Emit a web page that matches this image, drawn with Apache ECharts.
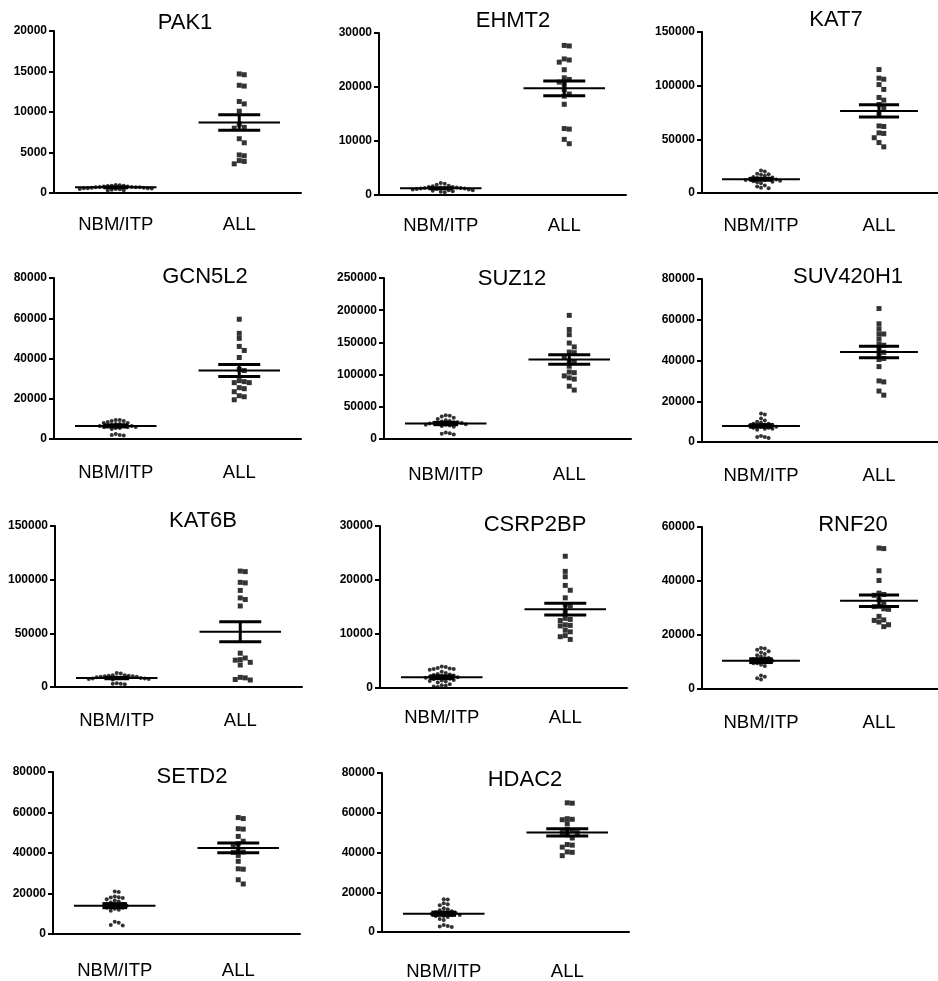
<!DOCTYPE html>
<html>
<head>
<meta charset="utf-8">
<script src="https://cdn.jsdelivr.net/npm/echarts@6/dist/echarts.min.js"></script>
<style>
html, body { margin: 0; padding: 0; background: #fff; }
#chart { width: 938px; height: 981px; }
</style>
</head>
<body>
<div id="chart"></div>
<script>
var genes = ['PAK1', 'EHMT2', 'KAT7', 'GCN5L2', 'SUZ12', 'SUV420H1', 'KAT6B', 'CSRP2BP', 'RNF20', 'SETD2', 'HDAC2'];
var groups = ['NBM/ITP', 'ALL'];
var yMax = [20000, 30000, 150000, 80000, 250000, 80000, 150000, 30000, 60000, 80000, 80000];
var yStep = [5000, 10000, 50000, 20000, 50000, 20000, 50000, 10000, 20000, 20000, 20000];

// values
var nbmPAK1 = [1000, 950, 900, 900, 850, 800, 800, 750, 750, 700, 700, 700, 650, 650, 600, 600, 600, 550, 500, 500, 450, 400, 350, 300];
var allPAK1 = [14700, 14600, 13300, 13200, 11300, 11000, 10100, 8500, 8100, 8000, 6700, 6200, 4700, 4600, 4000, 3900, 3600];
var nbmEHMT2 = [2200, 2100, 1900, 1700, 1600, 1500, 1500, 1400, 1400, 1300, 1300, 1300, 1200, 1200, 1100, 1100, 1000, 1000, 900, 900, 800, 700, 600, 500];
var allEHMT2 = [27700, 27600, 25200, 25000, 24600, 23200, 21700, 21400, 20900, 20500, 19500, 18700, 18300, 16800, 12300, 12200, 10300, 9500];
var nbmKAT7 = [21000, 20000, 18000, 17500, 17000, 16000, 15000, 14500, 14000, 13500, 13000, 13000, 12500, 12000, 12000, 11500, 11000, 10500, 10000, 9000, 7000, 6000, 5000, 4500];
var allKAT7 = [115000, 107000, 106000, 101000, 96500, 89000, 86500, 82500, 79000, 74000, 62500, 62000, 56000, 55500, 51500, 47000, 43000];
var nbmGCN5L2 = [9500, 9500, 9000, 9000, 8500, 8000, 8000, 7500, 7500, 7000, 7000, 6500, 6500, 6500, 6000, 6000, 6000, 5500, 5500, 5000, 2500, 2000, 2000, 1800];
var allGCN5L2 = [59500, 52500, 50000, 46000, 44000, 40500, 34500, 34000, 29000, 28500, 28000, 28000, 25500, 25000, 23500, 21500, 21000, 19500];
var nbmSUZ12 = [37000, 36000, 35000, 33000, 31000, 29000, 28000, 27000, 26000, 26000, 25000, 25000, 24000, 24000, 23000, 22000, 22000, 21000, 20000, 19000, 10000, 9000, 8000, 7000];
var allSUZ12 = [192000, 170000, 162000, 149000, 143000, 135000, 134000, 128000, 121000, 120000, 113000, 104000, 103000, 98000, 95000, 93000, 82000, 76000];
var nbmSUV420H1 = [14000, 13500, 11500, 10500, 10000, 9500, 9000, 9000, 8500, 8500, 8000, 8000, 7500, 7500, 7000, 7000, 6500, 6500, 6000, 3000, 2500, 2500, 2000];
var allSUV420H1 = [65500, 58000, 55500, 53000, 53000, 50500, 48000, 47500, 45500, 44000, 43000, 41000, 40500, 37000, 30000, 29500, 25000, 23000];
var nbmKAT6B = [13000, 12500, 11000, 11000, 10500, 10500, 10000, 10000, 9500, 9500, 9000, 9000, 8500, 8500, 8000, 8000, 7500, 7500, 7000, 3500, 3000, 3000, 2500];
var allKAT6B = [108000, 107500, 97500, 97000, 90000, 83000, 81500, 75500, 31500, 27000, 25500, 25000, 23000, 20500, 9000, 8500, 7000, 6500];
var nbmCSRP2BP = [4000, 3900, 3700, 3600, 3500, 3500, 3400, 3000, 2800, 2600, 2500, 2400, 2300, 2200, 2100, 2000, 2000, 1900, 1800, 1700, 1600, 1500, 1400, 1300, 1200, 1000, 700, 500, 400, 300, 200];
var allCSRP2BP = [24400, 21600, 20600, 19000, 18100, 16700, 15400, 15200, 14100, 12900, 12700, 12500, 11700, 11600, 11500, 10700, 10400, 9700, 9500, 9000];
var nbmRNF20 = [15200, 15000, 14500, 14000, 13500, 13000, 12500, 12000, 11500, 11500, 11000, 11000, 10500, 10500, 10000, 10000, 9500, 9500, 9000, 8500, 5000, 4500, 4000, 3500];
var allRNF20 = [52200, 52000, 43800, 40200, 35500, 35000, 34700, 33000, 31600, 30600, 30500, 29700, 29500, 26900, 25600, 25400, 24800, 23800, 23100];
var nbmSETD2 = [21000, 20800, 18500, 18200, 18000, 17800, 17200, 16500, 16000, 15500, 15000, 15000, 14500, 14000, 14000, 13500, 13000, 13000, 12500, 12000, 11500, 6000, 5500, 4500, 4200];
var allSETD2 = [57500, 57000, 52000, 51800, 48200, 45800, 44600, 44000, 41600, 40500, 40300, 38800, 35900, 32200, 32000, 26800, 24700];
var nbmHDAC2 = [16500, 16300, 14500, 14000, 13500, 12000, 11500, 11000, 10500, 10000, 10000, 9500, 9500, 9000, 9000, 8500, 8500, 8000, 8000, 7500, 6500, 6000, 3500, 3000, 2800, 2500];
var allHDAC2 = [65000, 64800, 57000, 56700, 56500, 54500, 51700, 50900, 50000, 50000, 48900, 47300, 44000, 43700, 42700, 40300, 40100, 38400];

var nbmValues = [nbmPAK1, nbmEHMT2, nbmKAT7, nbmGCN5L2, nbmSUZ12, nbmSUV420H1, nbmKAT6B, nbmCSRP2BP, nbmRNF20, nbmSETD2, nbmHDAC2];
var allValues = [allPAK1, allEHMT2, allKAT7, allGCN5L2, allSUZ12, allSUV420H1, allKAT6B, allCSRP2BP, allRNF20, allSETD2, allHDAC2];

// mean +/- SEM bars as drawn
var meanNBM = [700, 1250, 12800, 6500, 24000, 7900, 8300, 2000, 10500, 14000, 9200];
var semNBM = [50, 90, 900, 500, 1800, 600, 600, 250, 700, 1000, 800];
var meanALL = [8700, 19750, 76500, 34000, 123500, 44200, 51500, 14600, 32700, 42500, 50100];
var semALL = [950, 1350, 5800, 3000, 7500, 2800, 9300, 1100, 2100, 2400, 1800];

// plot area of each panel: left, top (max tick), bottom (zero)
var panelBox = [
    [54, 31, 193], [379, 33, 195], [702, 32, 193],
    [54, 278, 439], [384, 278, 439], [702, 279, 442],
    [55, 526, 687], [380, 526, 688], [702, 527, 689],
    [53, 772, 934], [382, 773, 935]
];
// gap between x axis and group labels
var labelGap = [22, 21, 23, 24, 26, 24, 24, 20, 24, 27, 30];
// title centre x, y
var titlePos = [
    [185, 24], [513, 22], [836, 21],
    [205, 278], [512, 280], [848, 278],
    [203, 522], [535, 526], [853, 526],
    [192, 778], [525, 781]
];
var PLOT_W = 247;
var FONT = 'Liberation Sans, Arial, sans-serif';

var chart = echarts.init(document.getElementById('chart'));

// simple beeswarm: spread points sideways so that dots don't overlap
function swarm(values, max, heightPx, unitPx, gap) {
    var placed = [];
    var out = [];
    var order = values.map(function (v, i) { return i; });
    order.sort(function (a, b) { return values[b] - values[a]; });
    order.forEach(function (i) {
        var y = values[i] / max * heightPx;
        for (var k = 0; k < 200; k++) {
            var dx = (k % 2 ? 1 : -1) * Math.ceil(k / 2) * gap;
            var ok = placed.every(function (p) {
                return Math.abs(p[0] - dx) >= gap || Math.abs(p[1] - y) >= gap;
            });
            if (ok) {
                placed.push([dx, y]);
                out[i] = dx / unitPx;
                break;
            }
        }
    });
    return out;
}

function renderMeanSem(params, api) {
    var x = api.value(0), m = api.value(1), s = api.value(2);
    var cap = x === 0 ? 0.1 : 0.17;
    function seg(x1, y1, x2, y2, lw) {
        var a = api.coord([x1, y1]), b = api.coord([x2, y2]);
        return {
            type: 'line',
            shape: { x1: a[0], y1: a[1], x2: b[0], y2: b[1] },
            style: { stroke: '#000', lineWidth: lw }
        };
    }
    return {
        type: 'group',
        children: [
            seg(x - 0.33, m, x + 0.33, m, 2),
            seg(x - cap, m + s, x + cap, m + s, 3),
            seg(x - cap, m - s, x + cap, m - s, 3),
            seg(x, m - s, x, m + s, 3)
        ]
    };
}

var grid = [], xAxis = [], yAxis = [], series = [], title = [];

genes.forEach(function (g, i) {
    var box = panelBox[i];
    var h = box[2] - box[1];
    grid.push({ left: box[0], top: box[1], width: PLOT_W, height: h });
    title.push({
        text: g, left: titlePos[i][0], top: titlePos[i][1] - 12,
        textAlign: 'center', padding: 0,
        textStyle: { fontSize: 22, fontWeight: 'normal', color: '#000', fontFamily: FONT }
    });
    xAxis.push({
        type: 'category', gridIndex: i, data: groups, boundaryGap: true,
        axisLine: { onZero: false, lineStyle: { color: '#000', width: 2 } },
        axisTick: { alignWithLabel: true, length: 5, lineStyle: { color: '#000', width: 2 } },
        axisLabel: { interval: 0, margin: labelGap[i], fontSize: 18.5, color: '#000', fontFamily: FONT }
    });
    xAxis.push({ type: 'value', gridIndex: i, min: -0.5, max: 1.5, show: false });
    yAxis.push({
        type: 'value', gridIndex: i, min: 0, max: yMax[i], interval: yStep[i],
        splitLine: { show: false },
        axisLine: { show: true, onZero: false, lineStyle: { color: '#000', width: 2 } },
        axisTick: { show: true, length: 5, lineStyle: { color: '#000', width: 2 } },
        axisLabel: {
            margin: 7, fontSize: 12, fontWeight: 'bold', color: '#000', fontFamily: FONT,
            formatter: function (v) { return String(v); }
        }
    });

    var unitPx = PLOT_W / 2;
    var nbmOff = swarm(nbmValues[i], yMax[i], h, unitPx, 4);
    var allOff = swarm(allValues[i], yMax[i], h, unitPx, 5);

    series.push({
        type: 'scatter', xAxisIndex: 2 * i + 1, yAxisIndex: i,
        symbol: 'circle', symbolSize: 4, itemStyle: { color: '#000' },
        silent: true,
        data: nbmValues[i].map(function (v, k) { return [0 + nbmOff[k], v]; })
    });
    series.push({
        type: 'scatter', xAxisIndex: 2 * i + 1, yAxisIndex: i,
        symbol: 'rect', symbolSize: 5, itemStyle: { color: '#000' },
        silent: true,
        data: allValues[i].map(function (v, k) { return [1 + allOff[k], v]; })
    });
    series.push({
        type: 'custom', xAxisIndex: 2 * i + 1, yAxisIndex: i,
        renderItem: renderMeanSem, silent: true, z: 3,
        encode: { x: 0, y: 1 },
        data: [[0, meanNBM[i], semNBM[i]], [1, meanALL[i], semALL[i]]]
    });
});

chart.setOption({
    animation: false,
    backgroundColor: '#fff',
    title: title,
    grid: grid,
    xAxis: xAxis,
    yAxis: yAxis,
    series: series
});
</script>
</body>
</html>
